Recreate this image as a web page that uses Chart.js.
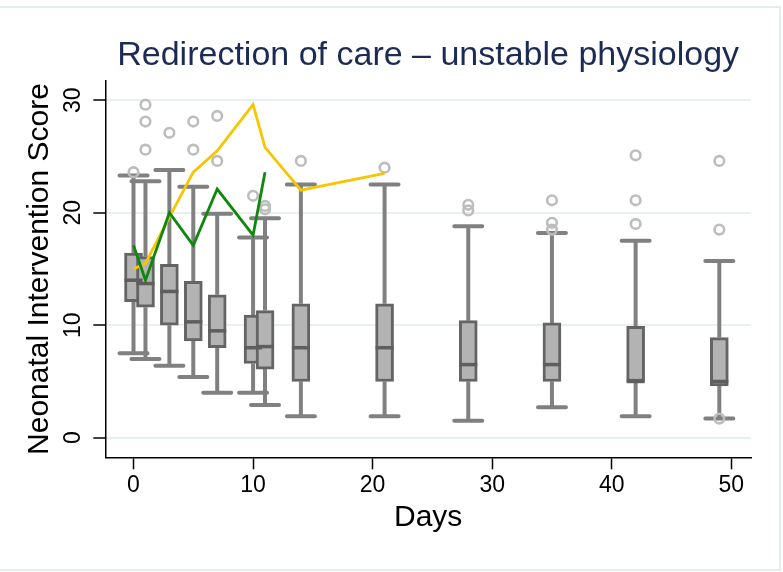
<!DOCTYPE html>
<html>
<head>
<meta charset="utf-8">
<script src="https://cdn.jsdelivr.net/npm/chart.js@4.4.1/dist/chart.umd.min.js"></script>
<style>
  html, body { margin: 0; padding: 0; background: #ffffff; overflow: hidden; }
  #wrap { position: relative; width: 783px; height: 572px; }
  #frame { position: absolute; left: -10px; top: 6px; width: 791px; height: 565px;
           box-sizing: border-box; border: 2px solid #e4ecef; pointer-events: none; }
  canvas { position: absolute; left: 0; top: 0; }
</style>
</head>
<body>
<div id="wrap">
  <canvas id="c" width="783" height="572"></canvas>
  <div id="frame"></div>
</div>
<script>
// ---- data ----
const days        = [0, 1, 3, 5, 7, 10, 11, 14, 21, 28, 35, 42, 49];
const whiskerLow  = [7.5, 7.0, 6.4, 5.4, 4.0, 4.0, 2.9, 1.9, 1.9, 1.5, 2.7, 1.9, 1.7];
const quartile1   = [12.1, 11.6, 10.0, 8.6, 8.0, 6.6, 6.1, 5.0, 5.0, 5.0, 5.0, 5.0, 4.6];
const medians     = [14.0, 13.7, 13.0, 10.3, 9.5, 8.0, 8.1, 8.0, 8.0, 6.5, 6.5, 5.0, 5.0];
const quartile3   = [16.4, 16.1, 15.4, 13.9, 12.7, 10.9, 11.3, 11.9, 11.9, 10.4, 10.2, 9.9, 8.9];
const whiskerHigh = [23.3, 22.8, 23.8, 22.3, 19.9, 17.8, 19.5, 22.5, 22.5, 18.8, 18.2, 17.5, 15.7];

const outlierDays   = [0, 1, 1, 1, 3, 5, 5, 7, 7, 10, 11, 11, 14, 21, 28, 28, 35, 35, 35, 42, 42, 42, 49, 49, 49];
const outlierValues = [23.6, 29.6, 28.1, 25.6, 27.1, 28.1, 25.6, 28.6, 24.6, 21.5, 20.6, 20.3, 24.6, 24.0,
                       20.7, 20.2, 21.1, 19.1, 18.5, 25.1, 21.1, 19.0, 24.6, 18.5, 1.7];

const yellowDays   = [0, 1, 3, 5, 7, 10, 11, 14, 21];
const yellowValues = [15.0, 15.5, 19.6, 23.6, 25.5, 29.6, 25.8, 22.0, 23.5];

const greenDays    = [0, 1, 3, 5, 7, 10, 11];
const greenValues  = [17.1, 14.0, 20.0, 17.1, 22.1, 18.0, 23.6];

const xTickValues = [0, 10, 20, 30, 40, 50];
const yTickValues = [0, 10, 20, 30];

const titleText  = 'Redirection of care \u2013 unstable physiology';
const xTitleText = 'Days';
const yTitleText = 'Neonatal Intervention Score';

// ---- chart ----
const FONT = "'Liberation Sans', Arial, sans-serif";
const BOX_INDEX = 3;

const boxPlugin = {
  id: 'boxParts',
  beforeDatasetsDraw(chart) {
    const {ctx, chartArea: a, scales: {x, y}} = chart;
    ctx.save();
    ctx.beginPath(); ctx.rect(a.left, a.top, a.right - a.left, a.bottom - a.top); ctx.clip();
    ctx.strokeStyle = '#808080';
    ctx.lineWidth = 4;
    days.forEach((d, i) => {
      const px = x.getPixelForValue(d);
      const yHi = y.getPixelForValue(whiskerHigh[i]);
      const yQ3 = y.getPixelForValue(quartile3[i]);
      const yQ1 = y.getPixelForValue(quartile1[i]);
      const yLo = y.getPixelForValue(whiskerLow[i]);
      ctx.lineCap = 'butt';
      ctx.beginPath();
      ctx.moveTo(px, yHi); ctx.lineTo(px, yQ3);
      ctx.moveTo(px, yQ1); ctx.lineTo(px, yLo);
      ctx.stroke();
      ctx.lineCap = 'round';
      ctx.beginPath();
      ctx.moveTo(px - 14, yHi); ctx.lineTo(px + 14, yHi);
      ctx.moveTo(px - 14, yLo); ctx.lineTo(px + 14, yLo);
      ctx.stroke();
    });
    ctx.restore();
  },
  afterDatasetDraw(chart, args) {
    if (args.index !== BOX_INDEX) return;
    const {ctx, scales: {y}} = chart;
    ctx.save();
    ctx.strokeStyle = '#5e5e5e';
    ctx.lineWidth = 3.5;
    args.meta.data.forEach((bar, i) => {
      const half = bar.width / 2;
      const py = y.getPixelForValue(medians[i]);
      ctx.beginPath();
      ctx.moveTo(bar.x - half, py); ctx.lineTo(bar.x + half, py);
      ctx.stroke();
    });
    ctx.restore();
  },
  afterDraw(chart) {
    const {ctx, chartArea: a, scales: {y}} = chart;
    ctx.save();
    // y tick labels, rotated as in the reference
    ctx.fillStyle = '#000000';
    ctx.font = '23px ' + FONT;
    ctx.textAlign = 'center';
    ctx.textBaseline = 'alphabetic';
    y.ticks.forEach(t => {
      const py = y.getPixelForValue(t.value);
      ctx.save();
      ctx.translate(80, py);
      ctx.rotate(-Math.PI / 2);
      ctx.fillText(String(t.value), 0, 0);
      ctx.restore();
    });
    // main title, centred over the plot region
    ctx.fillStyle = '#1c2b55';
    ctx.font = '34px ' + FONT;
    ctx.textAlign = 'center';
    ctx.textBaseline = 'alphabetic';
    ctx.fillText(titleText, (a.left + a.right) / 2, 64.5);
    ctx.restore();
  }
};

new Chart(document.getElementById('c'), {
  type: 'bar',
  data: {
    datasets: [
      {
        type: 'line',
        data: greenDays.map((d, i) => ({x: d, y: greenValues[i]})),
        borderColor: '#0f870f', borderWidth: 2.8, pointRadius: 0, tension: 0, fill: false, order: 1
      },
      {
        type: 'line',
        data: yellowDays.map((d, i) => ({x: d, y: yellowValues[i]})),
        borderColor: '#f7c600', borderWidth: 2.8, pointRadius: 0, tension: 0, fill: false, order: 2
      },
      {
        type: 'scatter',
        data: outlierDays.map((d, i) => ({x: d, y: outlierValues[i]})),
        pointStyle: 'circle', pointRadius: 4.8, borderWidth: 2.6,
        borderColor: '#bdbdbd', backgroundColor: 'rgba(255,255,255,0)', order: 3
      },
      {
        type: 'bar',
        data: days.map((d, i) => ({x: d, y: [quartile1[i], quartile3[i]]})),
        backgroundColor: '#b3b3b3', borderColor: '#646464', borderWidth: 3,
        borderSkipped: false, barThickness: 18, order: 4
      }
    ]
  },
  options: {
    responsive: false,
    animation: false,
    layout: { padding: { left: 0, right: 32, top: 80.7, bottom: 0 } },
    plugins: {
      legend: { display: false },
      tooltip: { enabled: false },
      title: { display: false }
    },
    scales: {
      x: {
        type: 'linear', min: -2.36, max: 51.65, offset: false,
        afterFit(s) { s.height = 114.7; },
        afterBuildTicks(s) { s.ticks = xTickValues.map(v => ({value: v})); },
        ticks: { color: '#000', font: { family: FONT, size: 23 }, padding: 3, maxRotation: 0 },
        grid: { offset: false, drawOnChartArea: false, drawTicks: true, tickLength: 12, tickColor: '#000', tickWidth: 1.5 },
        border: { display: true, color: '#000', width: 1.5 },
        title: { display: true, text: xTitleText, color: '#000',
                 font: { family: FONT, size: 30 }, padding: { top: 0, bottom: 36 } }
      },
      y: {
        type: 'linear', min: -1.74, max: 31.73,
        afterFit(s) { s.width = 105.3; },
        afterBuildTicks(s) { s.ticks = yTickValues.map(v => ({value: v})); },
        ticks: { display: false },
        grid: { offset: false, color: '#e8f0f2', lineWidth: 2, drawTicks: true, tickLength: 12, tickColor: '#000', tickWidth: 1.5 },
        border: { display: true, color: '#000', width: 1.5 },
        title: { display: true, text: yTitleText, color: '#000',
                 font: { family: FONT, size: 30 }, padding: { top: 22, bottom: 0 } }
      }
    }
  },
  plugins: [boxPlugin]
});
</script>
</body>
</html>
